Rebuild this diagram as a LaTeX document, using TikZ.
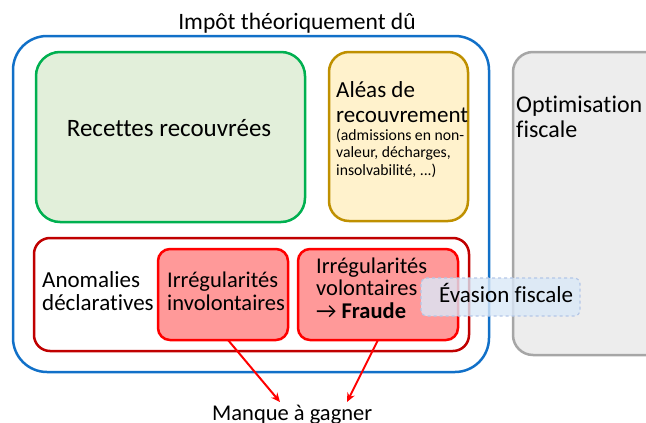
\documentclass[tikz,border=0pt]{standalone}
\usepackage{fontspec}
\setmainfont{Carlito}[Ligatures=NoCommon]
\usetikzlibrary{arrows.meta}
\definecolor{blueline}{HTML}{1170C8}
\definecolor{greenline}{HTML}{00B050}
\definecolor{greenfill}{HTML}{E2EFDA}
\definecolor{yelline}{HTML}{BF9000}
\definecolor{yelfill}{HTML}{FFF2CC}
\definecolor{grayline}{HTML}{A6A6A6}
\definecolor{grayfill}{HTML}{EDEDED}
\definecolor{darkred}{HTML}{C00000}
\definecolor{pinkfill}{HTML}{FF9999}
\definecolor{evfill}{HTML}{DAE8F8}
\definecolor{evline}{HTML}{B4C7E7}
\begin{document}
\begin{tikzpicture}[x=1pt,y=-1pt,
  box/.style={line width=2.5pt},
  txt/.style={anchor=base west,align=left,inner sep=0pt},
  fs/.style={font=\fontsize{#1}{#1}\selectfont},
  arr/.style={-{Stealth[length=9pt,width=8pt]},red,line width=2pt}]
\useasboundingbox (0,0) rectangle (646,423);
% outer blue
\draw[box,blueline,rounded corners=34pt] (13,36) rectangle (489,372);
\node[fs=23.5,anchor=base,inner sep=0pt] (title) at (297,30) {Impôt théoriquement dû};
% green
\draw[box,greenline,fill=greenfill,rounded corners=24pt] (36,52) rectangle (305,222);
\node[fs=25,anchor=base,inner sep=0pt] (rec) at (169,136) {Recettes recouvrées};
% yellow
\draw[box,yelline,fill=yelfill,rounded corners=20pt] (329,52) rectangle (468,221);
\node[txt,font=\fontsize{23}{25}\selectfont] (alea) at (336,122) {Aléas de\\recouvrement};
\node[txt,font=\fontsize{15.7}{17.5}\selectfont] (aleasub) at (336,175) {(admissions en non-\\valeur, décharges,\\insolvabilité, ...)};
% gray
\draw[box,grayline,fill=grayfill,rounded corners=20pt] (513,52) rectangle (670,355);
\node[txt,font=\fontsize{24}{25}\selectfont] (opt) at (516,137) {Optimisation\\fiscale};
% dark red
\draw[box,darkred,fill=white,rounded corners=16pt] (34,238) rectangle (469,351);
\node[txt,font=\fontsize{23}{23}\selectfont] (anom) at (42,310) {Anomalies\\déclaratives};
% pink boxes
\draw[box,red,fill=pinkfill,rounded corners=12pt] (158,249) rectangle (288,340);
\node[txt,font=\fontsize{22.5}{22.5}\selectfont] (inv) at (167,310) {Irrégularités\\involontaires};
\draw[box,red,fill=pinkfill,rounded corners=12pt] (298,249) rectangle (458,340);
\node[txt,font=\fontsize{22.5}{22.5}\selectfont] (vol) at (316,318) {Irrégularités\\volontaires\\→ \textbf{Fraude}};
% evasion
\draw[line width=1.2pt,evline,dashed,fill=evfill,fill opacity=0.8,rounded corners=6pt] (421,278) rectangle (580,316);
\node[txt,fs=23] (eva) at (439,302) {Évasion fiscale};
% bottom
\node[txt,fs=22.5] (mq) at (212,420) {Manque à gagner};
\coordinate (a1s) at (228,340);
\coordinate (a1e) at (280,402);
\coordinate (a2s) at (378,340);
\coordinate (a2e) at (347,402);
\draw[arr] (a1s) -- (a1e);
\draw[arr] (a2s) -- (a2e);
\end{tikzpicture}
\end{document}
